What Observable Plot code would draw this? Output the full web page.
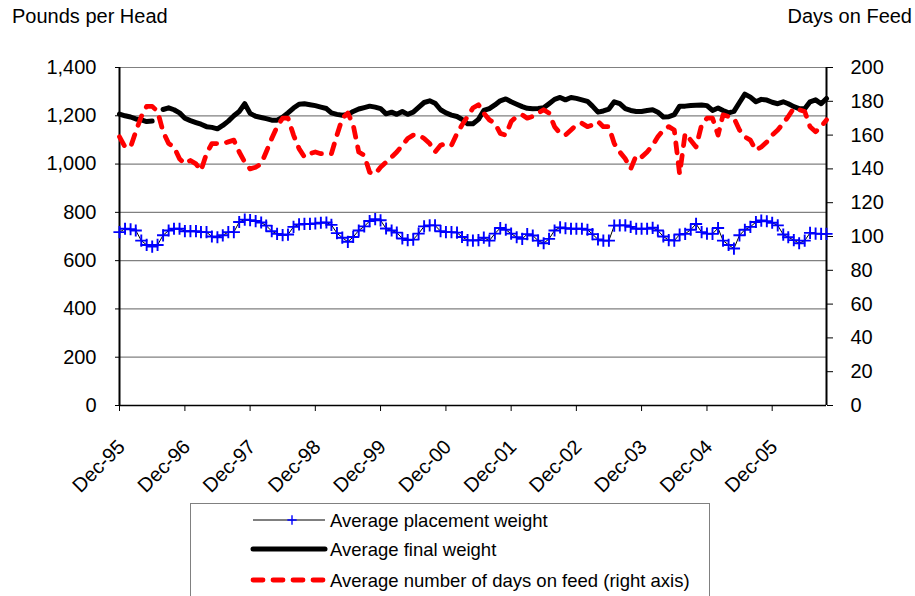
<!DOCTYPE html>
<html><head><meta charset="utf-8">
<script src="https://cdn.jsdelivr.net/npm/d3@7"></script>
<script src="https://cdn.jsdelivr.net/npm/@observablehq/plot@0.6"></script>
<style>
body{margin:0;background:#fff;font-family:"Liberation Sans",Arial,sans-serif;}
#wrap{position:relative;width:915px;height:596px;overflow:hidden;background:#fff;}
.ttl{position:absolute;font-size:20px;line-height:20px;color:#000;white-space:nowrap;}
#legend{position:absolute;left:190px;top:503px;}
</style></head><body>
<div id="wrap">
<div id="chart"></div>
<div class="ttl" style="left:12px;top:6px">Pounds per Head</div>
<div class="ttl" style="right:3px;top:6px">Days on Feed</div>
<div id="legend"></div>
</div>
<script>
// ---- data (monthly, Dec-95 .. Oct-06) ----
const firstMonth = "Dec-95";
const tickLabels = ["Dec-95","Dec-96","Dec-97","Dec-98","Dec-99","Dec-00","Dec-01","Dec-02","Dec-03","Dec-04","Dec-05"];
const leftTicks = [0,200,400,600,800,1000,1200,1400];
const rightTicks = [0,20,40,60,80,100,120,140,160,180,200];
const seriesNames = ["Average placement weight","Average final weight","Average number of days on feed (right axis)"];

const placementWeight = [
718,732,730,725,683,665,658,665,705,725,732,732,
722,722,722,718,718,700,697,705,718,718,760,770,
768,764,758,745,722,711,706,708,740,750,752,752,
754,757,758,748,714,695,678,698,725,742,764,772,
767,733,725,716,692,685,687,712,742,746,746,722,
718,718,716,698,685,683,685,695,683,712,735,728,
712,697,690,710,704,683,672,690,725,738,734,732,
732,732,728,710,688,683,683,745,746,746,740,732,
732,732,736,725,700,685,683,708,711,728,752,718,
712,711,735,683,665,650,705,728,740,760,766,763,
757,746,708,697,685,672,683,715,712,711,711];

const finalWeight = [
1207,1200,1195,1187,1183,1176,1178,null,1226,1233,1225,1212,
1190,1180,1172,1165,1155,1152,1146,1160,1178,1200,1218,1250,
1210,1198,1193,1188,1182,1182,1194,1212,1232,1248,1250,1246,
1242,1236,1230,1212,1206,1202,1205,1218,1228,1234,1240,1236,
1230,1208,1215,1206,1218,1206,1215,1235,1255,1262,1252,1225,
1212,1203,1197,1185,1167,1167,1185,1222,1230,1245,1262,1270,
1258,1248,1238,1231,1229,1230,1233,1250,1268,1276,1266,1276,
1272,1266,1260,1240,1215,1220,1228,1258,1250,1230,1222,1218,
1218,1222,1225,1215,1195,1196,1205,1240,1240,1243,1244,1245,
1242,1222,1232,1222,1212,1218,1255,1290,1277,1258,1268,1265,
1256,1250,1258,1250,1238,1230,1229,1258,1266,1250,1272];

const daysOnFeed = [
159,153,153,162,171,177,177,174,162,155,153,146,
143,145,143,139,149,155,155,155,156,157,150,144,
140,141,143,150,158,165,170,170,160,152,147,149,
150,149,149,149,160,170,173,166,150,148,138,137,
141,144,147,150,154,158,160,160,158,155,150,154,
155,154,161,166,171,176,178,173,169,167,161,160,
168,171,172,170,171,173,175,173,165,161,160,163,
166,167,165,166,168,165,165,155,150,146,140,148,
147,150,154,159,163,165,163,137,161,157,153,166,
170,170,160,172,171,170,163,159,157,151,153,156,
160,163,167,171,176,175,174,165,162,165,169];

// ---- build ----
const parseM = d3.utcParse("%b-%y");
const start = parseM(firstMonth);
const k = 1400 / 200; // right-axis days -> left-axis units
const rows = placementWeight.map((p, i) => ({
  date: d3.utcMonth.offset(start, i),
  placement: p,
  final: finalWeight[i],
  days: daysOnFeed[i] * k
}));
const tickDates = tickLabels.map(parseM);
const x0 = rows[0].date, x1 = rows[rows.length - 1].date;
const font = "'Liberation Sans', Arial, sans-serif";

const chart = Plot.plot({
  width: 915, height: 500,
  marginLeft: 119, marginRight: 89, marginTop: 67, marginBottom: 95,
  x: {type: "utc", domain: [x0, x1]},
  y: {domain: [0, 1400]},
  style: {fontFamily: font, fontSize: "20px", color: "#000", background: "#fff", overflow: "visible"},
  marks: [
    Plot.gridY(leftTicks, {stroke: "#808080", strokeOpacity: 1, strokeWidth: 1.2}),
    Plot.axisY(leftTicks, {anchor: "left", tickSize: 4, tickPadding: 19, tickFormat: d3.format(","), label: null, fontSize: 20}),
    Plot.axisY(rightTicks.map(d => d * k), {anchor: "right", tickSize: 6, tickPadding: 18, tickFormat: d => String(Math.round(d / k)), label: null, fontSize: 20}),
    Plot.axisX(tickDates, {tickSize: 6, tickFormat: () => "", label: null}),
    Plot.text(tickDates, {x: d => d, y: 0, text: (d, i) => tickLabels[i], rotate: -45, textAnchor: "end", dx: 2, dy: 38, fontSize: 20}),
    Plot.ruleY([0], {stroke: "#000", strokeWidth: 1.5}),
    Plot.ruleX([x0, x1], {stroke: "#000", strokeWidth: 2}),
    Plot.line(rows, {x: "date", y: "placement", stroke: "#000", strokeWidth: 1}),
    Plot.dot(rows, {x: "date", y: "placement", symbol: "plus", r: 4, stroke: "#0000ff", strokeWidth: 1.9}),
    Plot.line(rows, {x: "date", y: "final", stroke: "#000", strokeWidth: 5, strokeLinejoin: "round", strokeLinecap: "round"}),
    Plot.line(rows, {x: "date", y: "days", stroke: "#ff0000", strokeWidth: 4.8, strokeDasharray: "10,10", strokeLinecap: "round", strokeLinejoin: "round"})
  ]
});
document.getElementById("chart").appendChild(chart);

// ---- legend ----
const lg = d3.select("#legend").append("svg").attr("width", 520).attr("height", 110)
  .style("font-family", font);
lg.append("rect").attr("x", 0.5).attr("y", 0.5).attr("width", 519).attr("height", 120)
  .attr("fill", "#fff").attr("stroke", "#808080").attr("stroke-width", 1);
const rowsY = [17, 46, 77];
lg.append("line").attr("x1", 63).attr("x2", 135).attr("y1", rowsY[0]).attr("y2", rowsY[0]).attr("stroke", "#000").attr("stroke-width", 1);
lg.append("path").attr("d", d3.symbol(d3.symbolPlus, 30)()).attr("transform", `translate(102,${rowsY[0]})`)
  .attr("fill", "none").attr("stroke", "#0000ff").attr("stroke-width", 1.4);
lg.append("line").attr("x1", 63).attr("x2", 135).attr("y1", rowsY[1]).attr("y2", rowsY[1]).attr("stroke", "#000").attr("stroke-width", 5).attr("stroke-linecap", "round");
lg.append("line").attr("x1", 63).attr("x2", 135).attr("y1", rowsY[2]).attr("y2", rowsY[2]).attr("stroke", "#ff0000").attr("stroke-width", 4.8).attr("stroke-dasharray", "10,10").attr("stroke-linecap", "round");
seriesNames.forEach((t, i) => {
  lg.append("text").attr("x", 140).attr("y", rowsY[i] + 7).attr("font-size", 18.5).attr("fill", "#000").text(t);
});
</script>
</body></html>
